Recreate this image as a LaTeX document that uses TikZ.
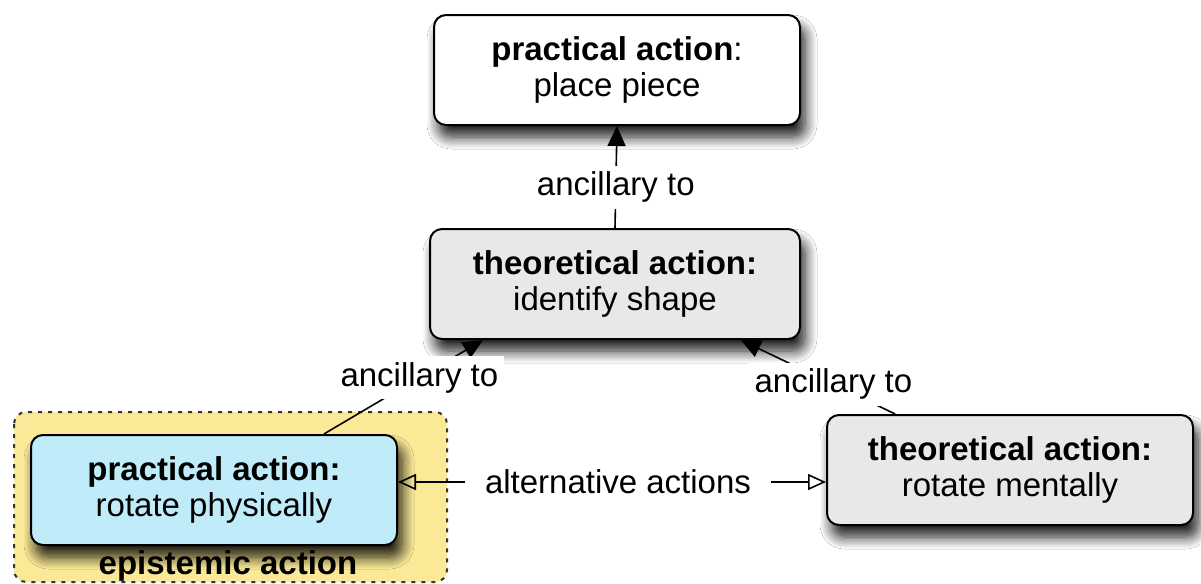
\documentclass[tikz,border=0pt]{standalone}
\usepackage{fontspec}
\setmainfont{Liberation Sans}
\usetikzlibrary{arrows.meta}
\usetikzlibrary{shadows.blur}
\definecolor{physblue}{RGB}{192,236,250}
\definecolor{epiyellow}{RGB}{250,233,150}
\definecolor{theogray}{RGB}{232,232,232}
\begin{document}
\begin{tikzpicture}[x=0.5pt,y=-0.5pt,
  actbox/.style={draw, line width=1pt, rounded corners=6pt, minimum width=183pt, minimum height=55pt, align=center, font=\fontsize{16.5}{18}\selectfont, blur shadow={shadow xshift=2.5pt, shadow yshift=-6pt, shadow blur radius=6pt, shadow blur steps=10, shadow opacity=90}},
  rel/.style={line width=0.8pt},
  lbl/.style={fill=white, font=\fontsize{16.5}{18}\selectfont, inner sep=3pt}]
			\useasboundingbox (0,0) rectangle (1201,584);
			\fill [white] (0,0) rectangle (1201,584);
			\filldraw [fill=epiyellow, draw=black!80, line width=1pt, dash pattern=on 2pt off 3pt, rounded corners=6pt] (14,412) rectangle (447,582);
			\node (epi) at (228,566) [font=\fontsize{16.5}{18}\selectfont\bfseries] {epistemic action};
			\node (place) at (617,70) [actbox, fill=white] {\textbf{practical action}:\\place piece};
			\node (ident) at (615,284) [actbox, fill=theogray, minimum width=185pt] {\textbf{theoretical action:}\\identify shape};
			\node (phys) at (214,490) [actbox, fill=physblue] {\textbf{practical action:}\\rotate physically};
			\node (ment) at (1010,470) [actbox, fill=theogray] {\textbf{theoretical action:}\\rotate mentally};
			\draw [rel, -{Triangle[length=10pt,width=9pt]}] (ident.north) -- node [lbl, pos=0.4] {ancillary to} (place.south);
			\draw [rel, -{Triangle[length=10pt,width=9pt]}] (phys.27) -- node [lbl, pos=0.6] {ancillary to} (ident.203);
			\draw [rel, -{Triangle[length=10pt,width=9pt]}] (ment.154) -- node [lbl, pos=0.4] {ancillary to} (ident.336);
			\node (alt) at (618,482) [lbl, inner xsep=10pt] {alternative actions};
			\draw [rel, -{Triangle[open,length=9pt,width=8pt]}] (alt.west) -- (alt.west -| phys.east);
			\draw [rel, -{Triangle[open,length=9pt,width=8pt]}] (alt.east) -- (alt.east -| ment.west);
\end{tikzpicture}
\end{document}
